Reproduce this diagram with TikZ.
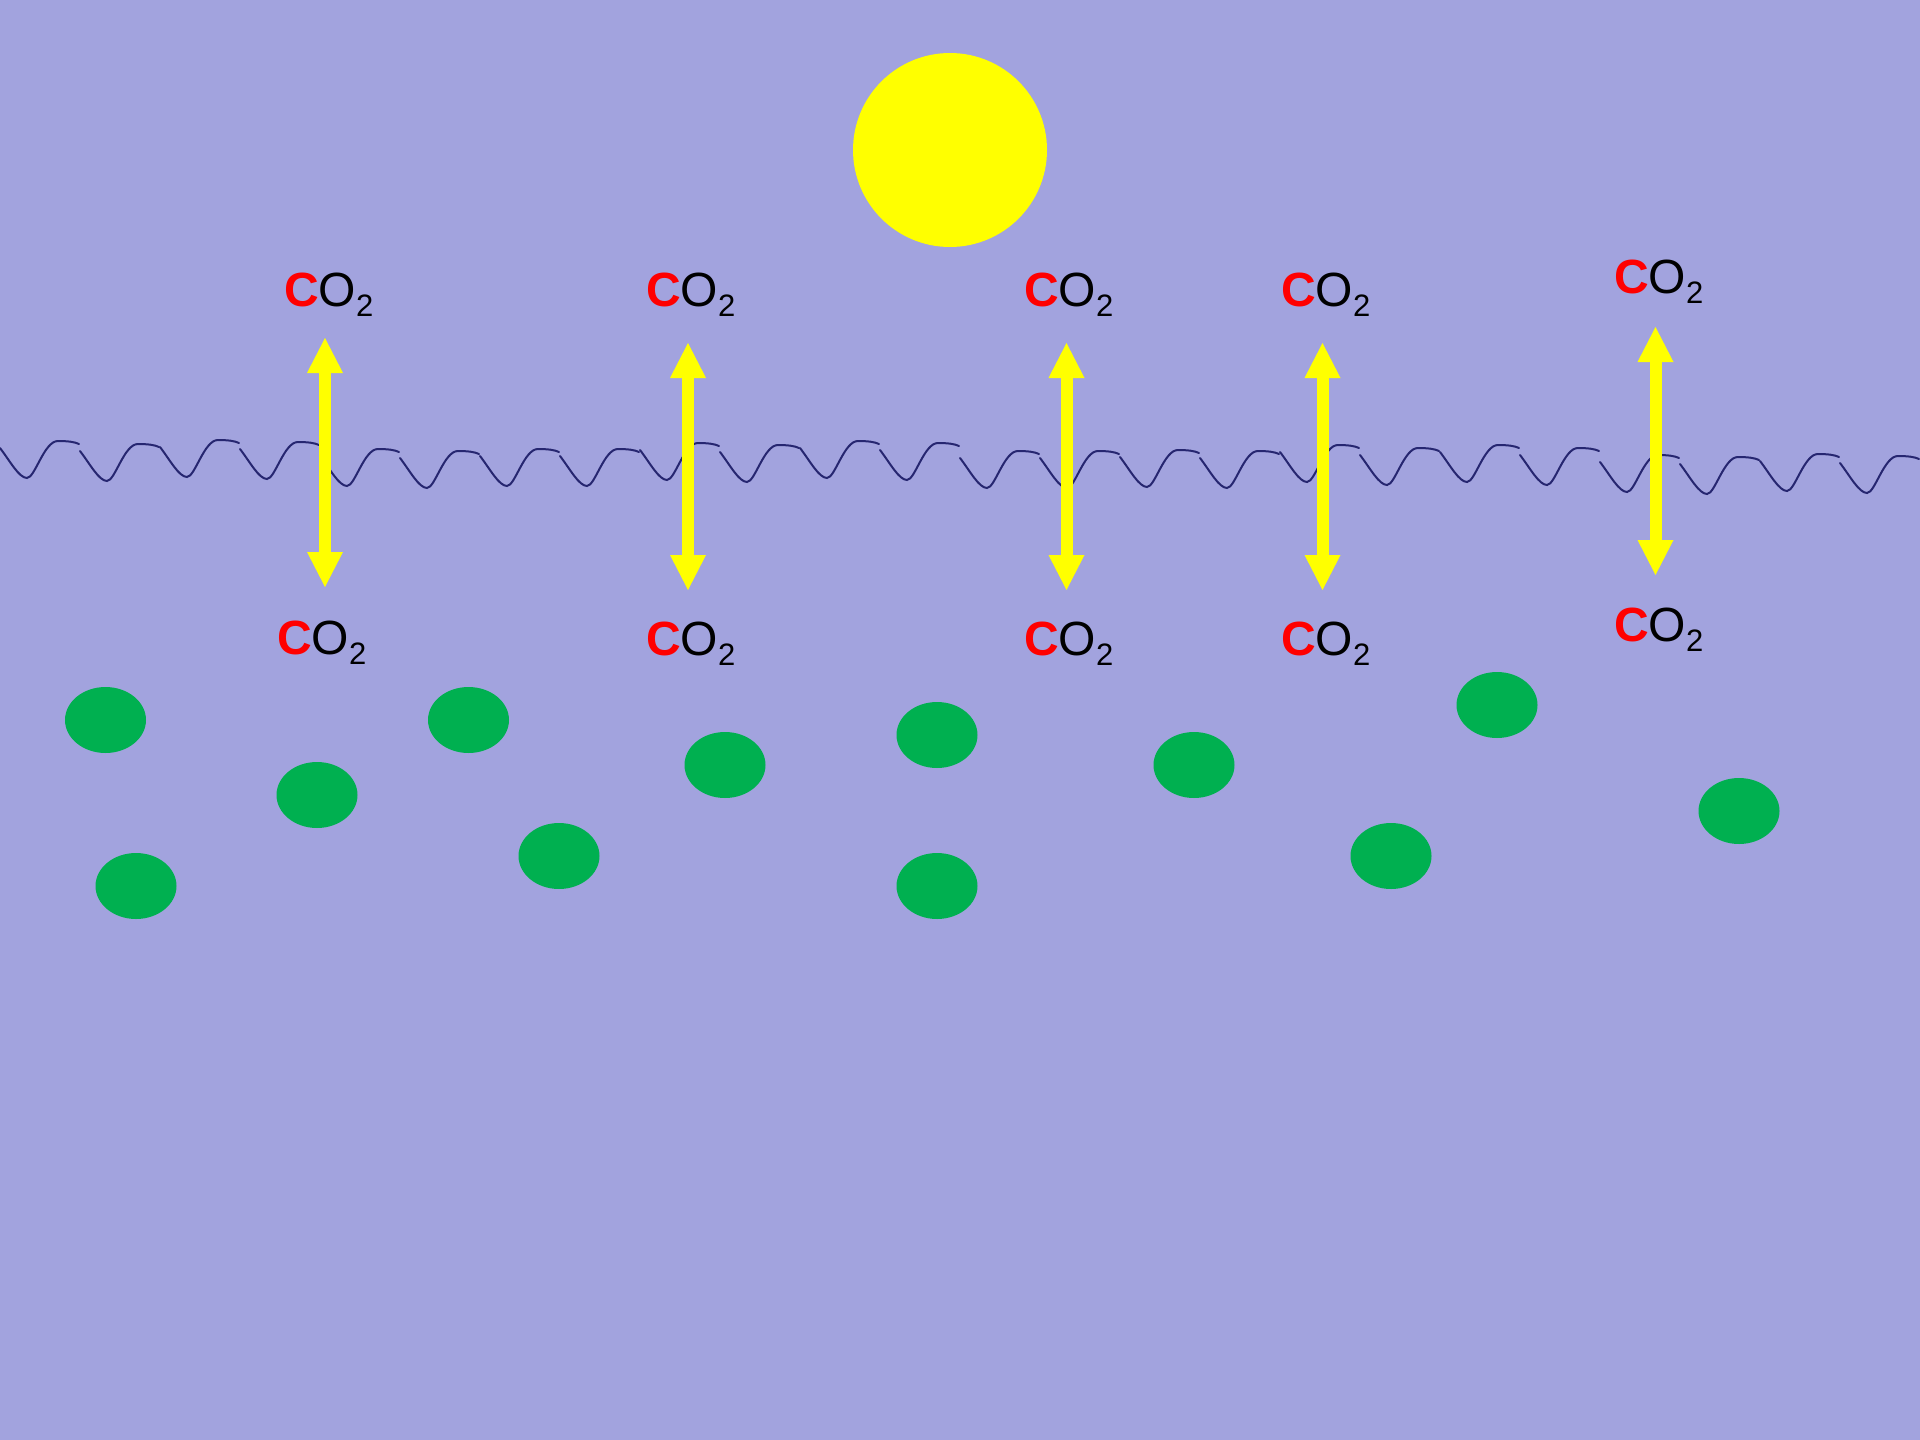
\documentclass[tikz,border=0pt]{standalone}
\usepackage{fontspec}
\setmainfont{Liberation Sans}
\usetikzlibrary{arrows.meta,shapes.geometric}
\definecolor{bg}{RGB}{162,163,222}
\definecolor{leaf}{RGB}{0,176,80}
\definecolor{wavec}{RGB}{38,38,112}
\definecolor{sunyellow}{RGB}{255,255,0}
\definecolor{cred}{RGB}{255,0,0}
\newcommand{\cotwo}{{\color{cred}\bfseries C}O\raisebox{-10pt}{\fontsize{31}{31}\selectfont 2}}
\tikzset{
  wave/.style={draw=wavec, line width=2pt, line cap=round},
  blob/.style={ellipse, fill=leaf, minimum width=81pt, minimum height=66pt, inner sep=0pt},
  gas/.style={anchor=base west, inner sep=0pt, font=\fontsize{48}{58}\selectfont},
  dbl/.style={draw=sunyellow, line width=12pt,
    {Triangle[length=35pt,width=36pt,line width=0pt]}-{Triangle[length=35pt,width=36pt,line width=0pt]}}
}
\begin{document}
\begin{tikzpicture}[x=1pt,y=-1pt]
\fill[bg] (0,0) rectangle (1920,1440);
\useasboundingbox (0,0) rectangle (1920,1440);
% sun
\node[circle, fill=sunyellow, minimum size=194pt, inner sep=0pt] (sun) at (950,150) {};
% water surface
\foreach \k/\s in {0/448,1/451,2/447,3/449,4/456,5/458,6/456,7/456,8/450,9/452,10/448,11/450,12/458,13/458,14/457,15/458,16/452,17/455,18/452,19/455,20/462,21/464,22/461,23/463}{
  \pgfmathsetmacro\xo{80*\k}
  \draw[wave] (\xo,\s) .. controls +(10,13) and +(-8,0) .. ++(27,30)
     .. controls +(8,0) and +(-14,0) .. ++(31,-37)
     .. controls +(10,0) and +(-4,-2) .. ++(21,3);
}
% arrow end points
\coordinate (a1t) at (325,338);   \coordinate (a1b) at (325,587);
\coordinate (a2t) at (688,343);   \coordinate (a2b) at (688,590);
\coordinate (a3t) at (1066.5,343);\coordinate (a3b) at (1066.5,590);
\coordinate (a4t) at (1322.5,343);\coordinate (a4b) at (1322.5,590);
\coordinate (a5t) at (1655.5,327);\coordinate (a5b) at (1655.5,575);
\draw[dbl] (a1t) -- (a1b);
\draw[dbl] (a2t) -- (a2b);
\draw[dbl] (a3t) -- (a3b);
\draw[dbl] (a4t) -- (a4b);
\draw[dbl] (a5t) -- (a5b);
% CO2 labels
\node[gas] (t1) at (284,306) {\cotwo};
\node[gas] (t2) at (646,306) {\cotwo};
\node[gas] (t3) at (1024,306) {\cotwo};
\node[gas] (t4) at (1281,306) {\cotwo};
\node[gas] (t5) at (1614,293) {\cotwo};
\node[gas] (b1) at (277,654) {\cotwo};
\node[gas] (b2) at (646,655) {\cotwo};
\node[gas] (b3) at (1024,655) {\cotwo};
\node[gas] (b4) at (1281,655) {\cotwo};
\node[gas] (b5) at (1614,641) {\cotwo};
% algae
\node[blob] (e1) at (105.5,720) {};
\node[blob] (e2) at (136,886) {};
\node[blob] (e3) at (317,795) {};
\node[blob] (e4) at (468.5,720) {};
\node[blob] (e5) at (559,856) {};
\node[blob] (e6) at (725,765) {};
\node[blob] (e7) at (937,735) {};
\node[blob] (e8) at (937,886) {};
\node[blob] (e9) at (1194,765) {};
\node[blob] (e10) at (1391,856) {};
\node[blob] (e11) at (1497,705) {};
\node[blob] (e12) at (1739,811) {};
\end{tikzpicture}
\end{document}
